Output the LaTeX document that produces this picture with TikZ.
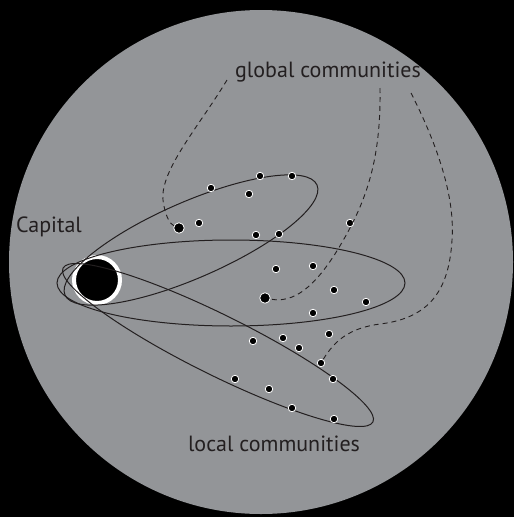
\documentclass[tikz,border=0pt]{standalone}
\usepackage{fontspec}
\setmainfont{PT Sans}
\usepackage{tikz}
\usetikzlibrary{positioning,calc}
\definecolor{Disc}{HTML}{939598}
\definecolor{Ink}{HTML}{231F20}

\begin{document}
\begin{tikzpicture}[x=1pt,y=-1pt,
    dot/.style={circle,fill=black,draw=white,line width=0.8pt,inner sep=0pt,minimum size=7.5pt},
    hub/.style={dot,minimum size=10.5pt},
    orbit/.style={Ink,line width=1pt},
    link/.style={Ink,line width=0.9pt,dash pattern=on 5pt off 4pt},
    lbl/.style={color=Ink,font=\fontsize{22}{24}\selectfont,inner sep=0pt}]
  \fill[black] (0,0) rectangle (514,517);
  \useasboundingbox (0,0) rectangle (514,517);
  \fill[Disc] (261,262) circle (252);

  \fill[black] (97,280) circle (23);
  \draw[white,line width=4pt] (97,280) circle (23);

  \draw[orbit] (231,283) ellipse [x radius=174,y radius=43];
  \draw[orbit,rotate around={23.6:(191,240)}] (191,240) ellipse [x radius=137.5,y radius=38];
  \draw[orbit,rotate around={-26.4:(218,345)}] (218,345) ellipse [x radius=173,y radius=30];

  \foreach \x/\y [count=\i] in {211/188,260/176,292/176,249/194,199/223,256/235,279/234,350/223,
      276/269,313/266,334/290,366/302,313/313,329/334,253/341,283/338,299/348,321/363,
      333/379,235/379,269/389,292/408,334/419}
    \node[dot] (d\i) at (\x,\y) {};
  \node[hub] (hubA) at (179,228) {};
  \node[hub] (hubB) at (265,298) {};

  \node[lbl] (global) at (328,72) {global communities};
  \node[lbl] (capital) at (49,227) {Capital};
  \node[lbl] (local) at (274,444) {local communities};

  \coordinate (g1) at (227,80);
  \coordinate (g2) at (380,88);
  \coordinate (g3) at (411,93);
  \draw[link] (g1) .. controls (200,125) and (160,170) .. (163,200) .. controls (165,216) and (170,224) .. (hubA);
  \draw[link] (g2) .. controls (381,150) and (370,190) .. (350,228) .. controls (325,275) and (300,305) .. (hubB);
  \draw[link] (g3) .. controls (440,150) and (455,200) .. (452,240) .. controls (449,290) and (430,318) .. (380,324) .. controls (350,328) and (335,340) .. (d18);
\end{tikzpicture}
\end{document}
